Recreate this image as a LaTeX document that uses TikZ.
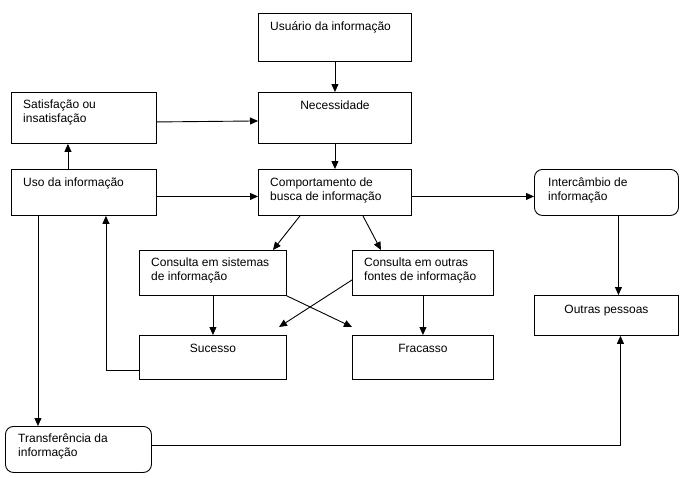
\documentclass[tikz,border=0pt]{standalone}
\usepackage{fontspec}
\setmainfont{Liberation Sans}
\usetikzlibrary{arrows.meta, calc}

\tikzset{
  box/.style={draw, line width=0.9pt, anchor=north west, inner sep=0pt},
  rbox/.style={box, rounded corners=8pt},
  txt/.style={inner sep=0pt, anchor=base west, align=left, font=\fontsize{12}{13.3}\selectfont},
  ctxt/.style={inner sep=0pt, anchor=base, font=\fontsize{12}{13.3}\selectfont},
  arr/.style={line width=0.9pt, -{Triangle[length=8pt,width=7pt]}}
}

\begin{document}
\begin{tikzpicture}[x=1pt,y=-1pt]
      \useasboundingbox (0,0) rectangle (683,477);

      \node[box, minimum width=153, minimum height=48] (usu) at (258,13) {};
      \node[box, minimum width=153, minimum height=51] (nec) at (258,92) {};
      \node[box, minimum width=145, minimum height=51] (sat) at (11,92) {};
      \node[box, minimum width=145, minimum height=46] (uso) at (11,169) {};
      \node[box, minimum width=153, minimum height=46] (comp) at (258,169) {};
      \node[rbox, minimum width=144, minimum height=46] (inter) at (534,169) {};

      \node[box, minimum width=147, minimum height=45] (sis) at (139,250) {};
      \node[box, minimum width=141, minimum height=45] (out) at (352,250) {};
      \node[box, minimum width=147, minimum height=44] (suc) at (139,335) {};
      \node[box, minimum width=141, minimum height=44] (fra) at (352,335) {};
      \node[box, minimum width=144, minimum height=40] (pes) at (534,295) {};

      \node[rbox, minimum width=146, minimum height=46] (trans) at (5,426) {};

      % textos (base = ultima linha)
      \node[txt] at ([shift={(12,17)}]usu.north west) {Usuário da informação};
      \node[ctxt] at ([yshift=-17]nec.north) {Necessidade};
      \node[txt] at ([shift={(12,30)}]sat.north west) {Satisfação ou\\insatisfação};
      \node[txt] at ([shift={(12,17)}]uso.north west) {Uso da informação};
      \node[txt] at ([shift={(12,31)}]comp.north west) {Comportamento de\\busca de informação};
      \node[txt] at ([shift={(14,31)}]inter.north west) {Intercâmbio de\\informação};
      \node[txt] at ([shift={(12,30)}]sis.north west) {Consulta em sistemas\\de informação};
      \node[txt] at ([shift={(12,30)}]out.north west) {Consulta em outras\\fontes de informação};
      \node[ctxt] at ([yshift=-17]suc.north) {Sucesso};
      \node[ctxt] at ([yshift=-17]fra.north) {Fracasso};
      \node[ctxt] at ([yshift=-18]pes.north) {Outras pessoas};
      \node[txt] at ([shift={(13,30)}]trans.north west) {Transferência da\\informação};

      % pontas soltas do cruzamento
      \coordinate (crA) at (352,327);
      \coordinate (crB) at (279,327);

      \draw[arr] (usu.south) -- (nec.north);
      \draw[arr] (nec.south) -- (comp.north);
      \draw[arr] ([yshift=-4]sat.east) -- ([yshift=-3]nec.west);
      \draw[arr] ([xshift=-16]uso.north) -- ([xshift=-16]sat.south);
      \draw[arr] ([yshift=-4]uso.east) -- ([yshift=-4]comp.west);
      \draw[arr] ([yshift=-4]comp.east) -- ([yshift=-4]inter.west);
      \draw[arr] ([xshift=-35]comp.south) -- ([xshift=60]sis.north);
      \draw[arr] ([xshift=28]comp.south) -- ([xshift=-42]out.north);
      \draw[arr] (sis.south) -- (suc.north);
      \draw[arr] (out.south) -- (fra.north);
      \draw[arr] (sis.south east) -- (crA);
      \draw[arr] ([yshift=-7]out.west) -- (crB);
      \draw[arr] ([xshift=12]inter.south) -- ([xshift=12]pes.north);
      \draw[arr] ([yshift=-13]suc.west) -| ([xshift=22]uso.south);
      \draw[arr] ([xshift=-46]uso.south) -- ([xshift=-46]uso.south |- trans.north);
      \draw[arr] ([yshift=4]trans.east) -| ([xshift=14]pes.south);
    \end{tikzpicture}
\end{document}
